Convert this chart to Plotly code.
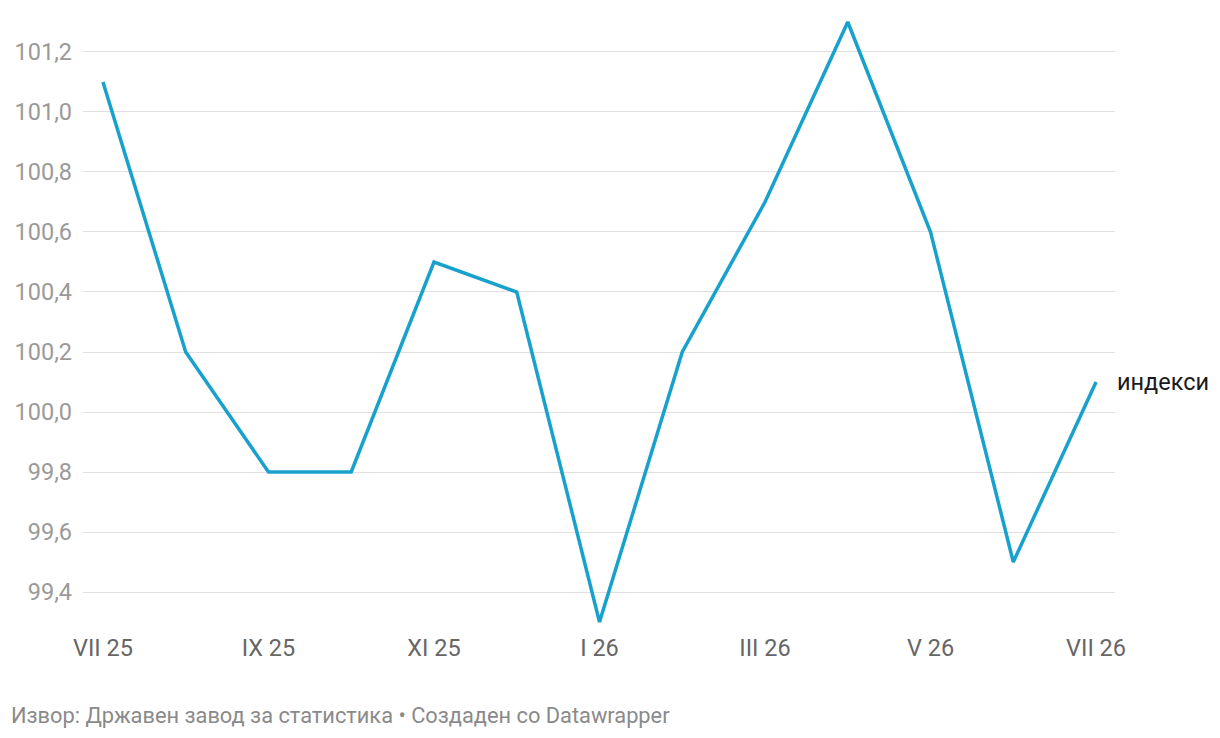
import plotly.graph_objects as go

months = ["VII 25", "VIII 25", "IX 25", "X 25", "XI 25", "XII 25", "I 26",
          "II 26", "III 26", "IV 26", "V 26", "VI 26", "VII 26"]
values = [101.1, 100.2, 99.8, 99.8, 100.5, 100.4, 99.3, 100.2, 100.7, 101.3, 100.6, 99.5, 100.1]
y_ticks = [99.4, 99.6, 99.8, 100.0, 100.2, 100.4, 100.6, 100.8, 101.0, 101.2]
x_tick_labels = months[::2]
series_name = "индекси"
source_text = "Извор: Државен завод за статистика • Создаден со Datawrapper"

idx = list(range(len(months)))

fig = go.Figure()
fig.add_trace(go.Scatter(
    x=idx, y=values, mode="lines",
    line=dict(color="#18a1cd", width=3.5),
    hoverinfo="skip", showlegend=False,
))

fig.add_annotation(
    x=idx[-1], y=values[-1], xref="x", yref="y",
    text=series_name, showarrow=False, xanchor="left", yanchor="middle",
    xshift=19, font=dict(family="Roboto", size=23.5, color="#1a1a1a"),
)
fig.add_annotation(
    x=0, y=0, xref="paper", yref="paper", xanchor="left", yanchor="middle",
    text=source_text, showarrow=False,
    xshift=-74, yshift=-90,
    font=dict(family="Roboto", size=21.8, color="#8a8a8a"),
)

fig.update_layout(
    width=1220, height=738,
    margin=dict(l=73, r=113, t=7, b=121),
    paper_bgcolor="white", plot_bgcolor="white",
    separators=",.",
    font=dict(family="Roboto"),
    xaxis=dict(
        range=[-0.241, 12.229],
        tickmode="array", tickvals=idx[::2], ticktext=x_tick_labels,
        showgrid=False, zeroline=False, showline=False,
        tickfont=dict(size=23.5, color="#666666"),
        ticklabelstandoff=6, fixedrange=True,
    ),
    yaxis=dict(
        range=[99.29, 101.3233],
        tickmode="array", tickvals=y_ticks, tickformat=".1f",
        showgrid=True, gridcolor="#e0e0e0", gridwidth=1,
        zeroline=False, showline=False,
        tickfont=dict(size=23.5, color="#9a9a9a"),
        ticklabelstandoff=10, fixedrange=True,
    ),
)

fig.write_html("out.html")
